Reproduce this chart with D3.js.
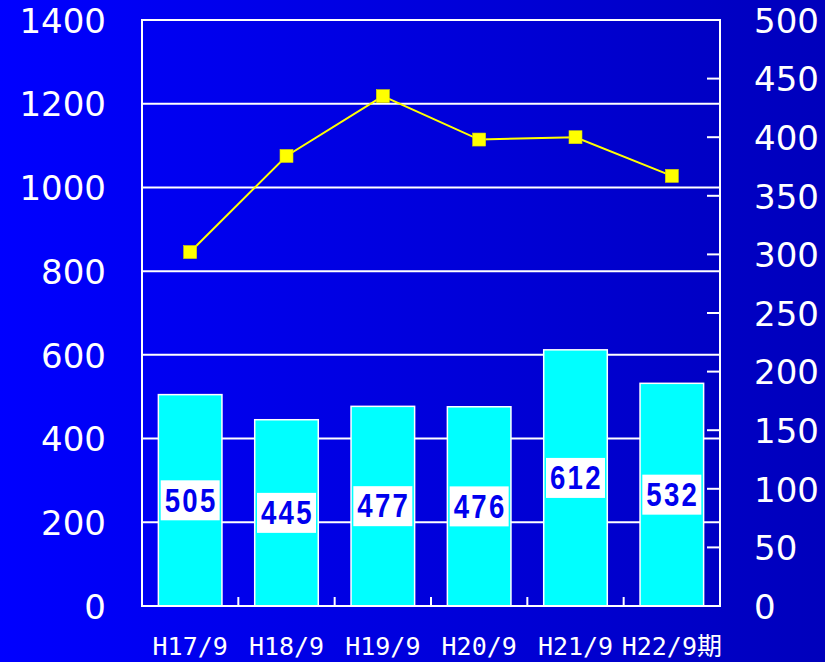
<!DOCTYPE html>
<html>
<head>
<meta charset="utf-8">
<script src="https://cdn.jsdelivr.net/npm/d3@7"></script>
<style>
  html, body { margin: 0; padding: 0; background: #0000ff; }
  svg { display: block; }
</style>
</head>
<body>
<div id="chart"></div>
<script>
// ---- data ----
const categories = ["H17/9", "H18/9", "H19/9", "H20/9", "H21/9", "H22/9期"];
const barValues = [505, 445, 477, 476, 612, 532];      // left axis
const lineValues = [302, 384, 435, 398, 400, 367];     // right axis
const leftTicks = [0, 200, 400, 600, 800, 1000, 1200, 1400];
const rightTicks = [0, 50, 100, 150, 200, 250, 300, 350, 400, 450, 500];

// ---- layout ----
const W = 825, H = 662;
const plot = { left: 142, top: 20, right: 720, bottom: 606 };

const svg = d3.select("#chart").append("svg")
  .attr("width", W).attr("height", H);

const defs = svg.append("defs");
const grad = defs.append("linearGradient").attr("id", "bg")
  .attr("x1", "0").attr("y1", "0").attr("x2", "1").attr("y2", "0");
grad.append("stop").attr("offset", "0").attr("stop-color", "#0000ff");
grad.append("stop").attr("offset", "1").attr("stop-color", "#0000bc");

svg.append("rect").attr("width", W).attr("height", H).attr("fill", "url(#bg)");

const x = d3.scaleBand().domain(categories)
  .range([plot.left, plot.right]).paddingInner(0.34).paddingOuter(0.17);
const yL = d3.scaleLinear().domain([0, 1400]).range([plot.bottom, plot.top]);
const yR = d3.scaleLinear().domain([0, 500]).range([plot.bottom, plot.top]);

// gridlines (left axis)
svg.append("g").selectAll("line")
  .data(leftTicks.filter(t => t > 0 && t < 1400))
  .join("line")
  .attr("x1", plot.left).attr("x2", plot.right)
  .attr("y1", d => yL(d)).attr("y2", d => yL(d))
  .attr("stroke", "#ffffff").attr("stroke-width", 2);

// right axis inner tick marks
svg.append("g").selectAll("line")
  .data(rightTicks.filter(t => t > 0 && t < 500))
  .join("line")
  .attr("x1", plot.right - 13).attr("x2", plot.right)
  .attr("y1", d => yR(d)).attr("y2", d => yR(d))
  .attr("stroke", "#ffffff").attr("stroke-width", 2);

// bottom category boundary ticks
const step = x.step();
svg.append("g").selectAll("line")
  .data(categories.slice(1))
  .join("line")
  .attr("x1", (d, i) => plot.left + step * (i + 1))
  .attr("x2", (d, i) => plot.left + step * (i + 1))
  .attr("y1", plot.bottom).attr("y2", plot.bottom - 9)
  .attr("stroke", "#ffffff").attr("stroke-width", 2);

// bars
svg.append("g").selectAll("rect")
  .data(barValues)
  .join("rect")
  .attr("x", (d, i) => x(categories[i]))
  .attr("width", x.bandwidth())
  .attr("y", d => yL(d))
  .attr("height", d => plot.bottom - yL(d))
  .attr("fill", "#00ffff")
  .attr("stroke", "#ffffff").attr("stroke-width", 1.5);

// plot border
svg.append("rect")
  .attr("x", plot.left).attr("y", plot.top)
  .attr("width", plot.right - plot.left).attr("height", plot.bottom - plot.top)
  .attr("fill", "none").attr("stroke", "#ffffff").attr("stroke-width", 2);

// bar value labels
const lbl = svg.append("g").selectAll("g")
  .data(barValues)
  .join("g")
  .attr("transform", (d, i) => `translate(${x(categories[i]) + x.bandwidth() / 2},${(yL(d) + plot.bottom) / 2})`);
lbl.append("rect")
  .attr("x", -29.5).attr("y", -20).attr("width", 59).attr("height", 40)
  .attr("fill", "#ffffff");
lbl.append("text")
  .attr("text-anchor", "middle")
  .attr("transform", "scale(0.92,1.12)")
  .attr("x", 1)
  .attr("y", 10)
  .attr("font-family", "Liberation Sans, Arial, sans-serif")
  .attr("font-weight", "bold")
  .attr("font-size", 30)
  .attr("letter-spacing", 2.5)
  .attr("fill", "#0000ee")
  .text(d => d);

// line series
const line = d3.line()
  .x((d, i) => x(categories[i]) + x.bandwidth() / 2)
  .y(d => yR(d));
svg.append("path")
  .datum(lineValues)
  .attr("d", line)
  .attr("fill", "none")
  .attr("stroke", "#ffff00").attr("stroke-width", 2);
svg.append("g").selectAll("rect")
  .data(lineValues)
  .join("rect")
  .attr("x", (d, i) => x(categories[i]) + x.bandwidth() / 2 - 6.5)
  .attr("y", d => yR(d) - 6.5)
  .attr("width", 13).attr("height", 13)
  .attr("fill", "#ffff00")
  .attr("stroke", "#d8d800").attr("stroke-width", 0.6);

// left axis labels
const leftAxis = d3.axisLeft(yL).tickValues(leftTicks).tickFormat(d3.format("d"))
  .tickSize(0).tickPadding(36);
const gL = svg.append("g").attr("transform", `translate(${plot.left},0)`).call(leftAxis);
gL.select(".domain").remove();
gL.selectAll("text")
  .attr("font-family", "DejaVu Sans, sans-serif")
  .attr("font-size", 34)
  .attr("fill", "#ffffff")
  .attr("dy", "0.36em");

// right axis labels
const rightAxis = d3.axisRight(yR).tickValues(rightTicks).tickFormat(d3.format("d"))
  .tickSize(0).tickPadding(34);
const gR = svg.append("g").attr("transform", `translate(${plot.right},0)`).call(rightAxis);
gR.select(".domain").remove();
gR.selectAll("text")
  .attr("font-family", "DejaVu Sans, sans-serif")
  .attr("font-size", 34)
  .attr("fill", "#ffffff")
  .attr("dy", "0.36em");

// category labels
const bottomAxis = d3.axisBottom(x).tickSize(0).tickPadding(0);
const gB = svg.append("g").attr("transform", `translate(0,${plot.bottom})`).call(bottomAxis);
gB.select(".domain").remove();
gB.selectAll("text")
  .attr("font-family", "DejaVu Sans Mono, Noto Sans CJK JP, monospace")
  .attr("font-size", 25)
  .attr("fill", "#ffffff")
  .attr("y", 49)
  .attr("dy", 0);
</script>
</body>
</html>
